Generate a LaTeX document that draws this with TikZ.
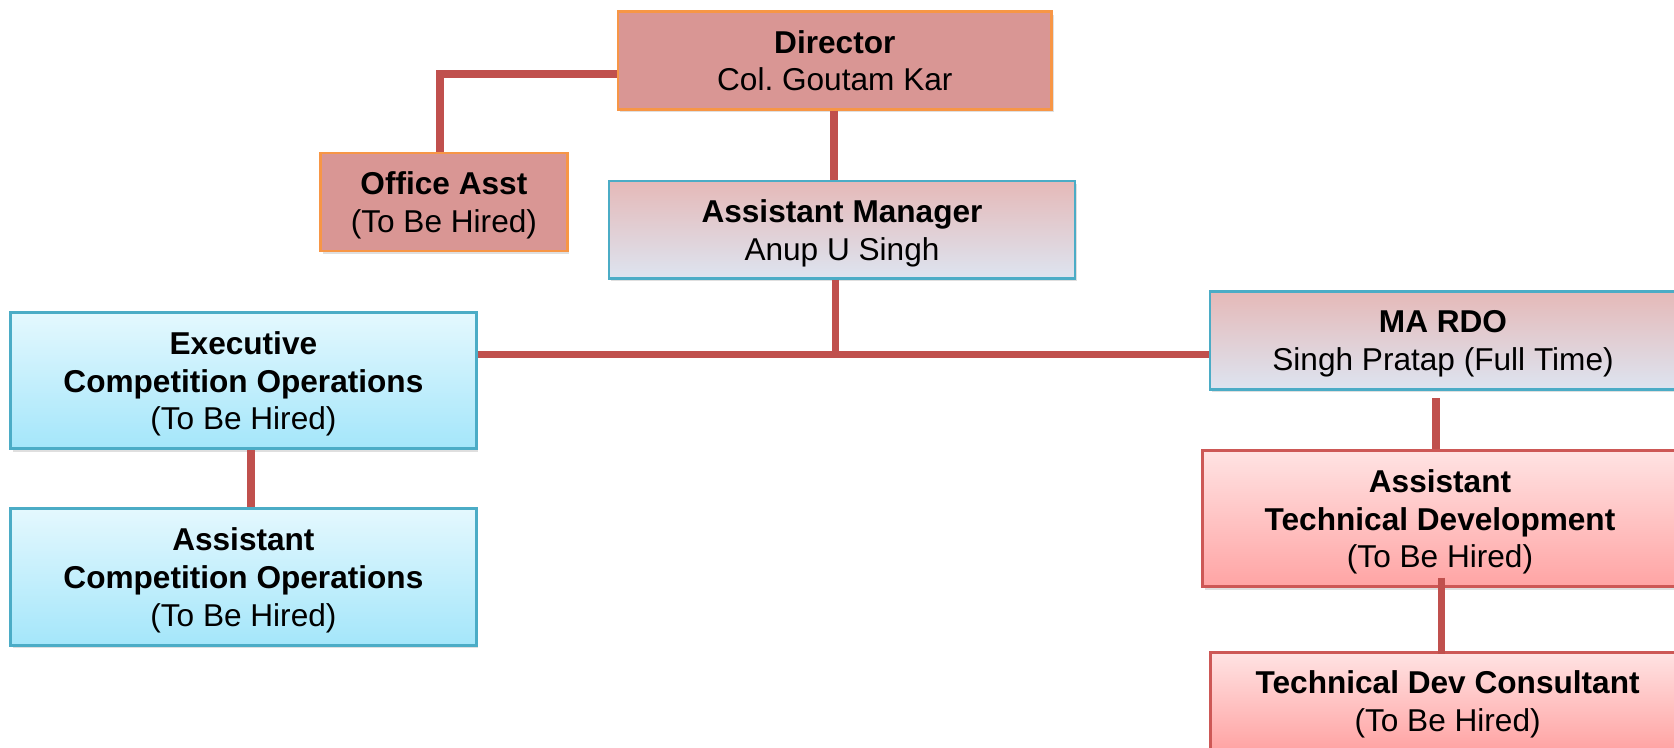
\documentclass[tikz,border=0pt]{standalone}
\usepackage{fontspec}
\setmainfont{Liberation Sans}
\usepackage{tikz}
\usetikzlibrary{positioning,shadows}

\definecolor{linkred}{RGB}{192,80,77}
\definecolor{dirfill}{RGB}{217,150,148}
\definecolor{dirline}{RGB}{247,150,70}
\definecolor{aqualine}{RGB}{75,172,198}
\definecolor{redline}{RGB}{205,88,86}

\tikzset{
  post/.style={rectangle,align=center,inner sep=0pt,line width=1.4pt,
    font=\fontsize{15.8}{18.9}\selectfont,text depth=-2pt,
    drop shadow={opacity=0.25,shadow xshift=1pt,shadow yshift=-1.5pt}},
  boss/.style={post,draw=dirline,fill=dirfill},
  mgr/.style={post,draw=aqualine,top color={rgb,255:red,229;green,185;blue,184},
    bottom color={rgb,255:red,221;green,228;blue,240}},
  comp/.style={post,draw=aqualine,top color={rgb,255:red,228;green,248;blue,254},
    bottom color={rgb,255:red,164;green,230;blue,250}},
  tech/.style={post,draw=redline,top color={rgb,255:red,255;green,227;blue,227},
    bottom color={rgb,255:red,255;green,164;blue,164}},
  link/.style={draw=linkred,line width=3.8pt}
}

\begin{document}
\begin{tikzpicture}[x=0.5pt,y=-0.5pt]
  \useasboundingbox (0,0) rectangle (1674,748);

  \node[boss,minimum width=216.8pt,minimum height=48.8pt] (dir) at (834.8,60.5)
    {\textbf{Director}\\Col.\ Goutam Kar};
  \node[boss,minimum width=123.2pt,minimum height=49pt] (office) at (443.9,202)
    {\textbf{Office Asst}\\(To Be Hired)};
  \node[mgr,minimum width=233pt,minimum height=48.7pt] (am) at (842,229.7)
    {\textbf{Assistant Manager}\\Anup U Singh};
  \node[comp,minimum width=232.7pt,minimum height=68pt] (exec) at (243.4,380.7)
    {\textbf{Executive}\\\textbf{Competition Operations}\\(To Be Hired)};
  \node[comp,minimum width=232.7pt,minimum height=68.3pt,below=28.6pt of exec] (asco)
    {\textbf{Assistant}\\\textbf{Competition Operations}\\(To Be Hired)};
  \node[mgr,minimum width=233pt,minimum height=48.8pt] (rdo) at (1443,340.5)
    {\textbf{MA RDO}\\Singh Pratap (Full Time)};
  \node[tech,minimum width=237.3pt,minimum height=68pt] (atd) at (1440,518.7)
    {\textbf{Assistant}\\\textbf{Technical Development}\\(To Be Hired)};
  \node[tech,minimum width=237pt,minimum height=48.5pt] (tdc) at (1447.6,700.8)
    {\textbf{Technical Dev Consultant}\\(To Be Hired)};

  \coordinate (hub) at ([xshift=-3.2pt]am.south |- 0,354.5);

  \draw[link]
    ([yshift=-6.8pt]dir.west) -| ([xshift=-2pt]office.north)
    ([xshift=-0.5pt]dir.south) -- ([xshift=-0.5pt]dir.south |- am.north)
    ([xshift=-3.2pt]am.south) -- (hub)
    (exec.east |- hub) -- (rdo.west |- hub)
    ([xshift=3.8pt]exec.south) -- ([xshift=3.8pt]asco.north)
    ([xshift=-3.5pt,yshift=-3.7pt]rdo.south) -- ([xshift=-3.5pt]rdo.south |- atd.north)
    ([xshift=0.8pt,yshift=5.3pt]atd.south) -- ([xshift=0.8pt,yshift=-1.3pt]atd.south |- tdc.north)
  ;
\end{tikzpicture}
\end{document}
